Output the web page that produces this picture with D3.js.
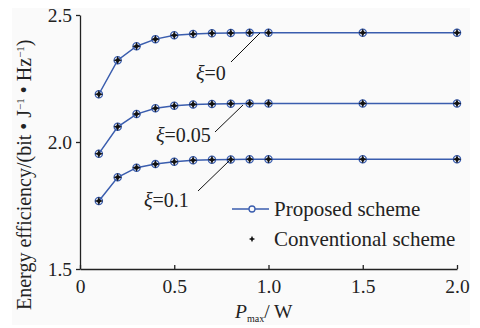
<!DOCTYPE html>
<html>
  <head>
    <meta charset="utf-8">
    <title>Energy efficiency vs Pmax</title>
    <script src="https://d3js.org/d3.v7.min.js"></script>
    <style>
    html, body {
        margin: 0;
        padding: 0;
        background: #fff;
    }
    .axis path, .axis line {
        stroke: #222;
        stroke-width: 1.3px;
    }
    .curve {
        fill: none;
        stroke: #3a5dae;
        stroke-width: 1.5px;
    }
    .ring {
        fill: none;
        stroke: #3a5dae;
        stroke-width: 1.3px;
    }
    .star {
        fill: #111;
    }
    .leader {
        stroke: #111;
        stroke-width: 1px;
    }
    </style>
  </head>
  <body>
    <div id="vis"></div>
    <script>

      // P_max (W)
      var powerW = [0.1, 0.2, 0.3, 0.4, 0.5, 0.6, 0.7, 0.8, 0.9, 1.0, 1.5, 2.0];

      // energy efficiency, proposed scheme
      var eeXi0   = [2.188, 2.322, 2.377, 2.405, 2.420, 2.425, 2.428, 2.429, 2.430, 2.430, 2.430, 2.430];
      var eeXi005 = [1.954, 2.060, 2.110, 2.133, 2.143, 2.148, 2.150, 2.151, 2.152, 2.152, 2.152, 2.152];
      var eeXi01  = [1.768, 1.861, 1.899, 1.913, 1.922, 1.928, 1.930, 1.931, 1.932, 1.932, 1.932, 1.932];

      // conventional scheme lands on the same points
      var convXi0   = eeXi0.slice();
      var convXi005 = eeXi005.slice();
      var convXi01  = eeXi01.slice();

      var xTicks = [0, 0.5, 1.0, 1.5, 2.0];
      var xTickLabels = ['0', '0.5', '1.0', '1.5', '2.0'];
      var yTicks = [1.5, 2.0, 2.5];
      var curveLabels = ['\u03BE=0', '\u03BE=0.05', '\u03BE=0.1'];
      var legendLabels = ['Proposed scheme', 'Conventional scheme'];

      var width = 480;
      var height = 328;
      var serif = "'Liberation Serif'";

      function serifText(sel, size) {
        return sel.style('font-family', serif)
            .style('font-size', size + 'px')
            .style('fill', '#222');
      }

      var x = d3.scaleLinear().domain([0, 2]).range([80, 457]);
      var y = d3.scaleLinear().domain([1.5, 2.5]).range([269, 15]);

      var svg = d3.select('#vis').append('svg')
          .attr('width', width)
          .attr('height', height);

      svg.append('rect')
          .attr('x', 12).attr('y', 8)
          .attr('width', 458).attr('height', 317)
          .attr('fill', '#fafafa');

      // axes
      var gx = svg.append('g')
          .attr('class', 'axis')
          .attr('transform', 'translate(0,' + y(1.5) + ')')
          .call(d3.axisBottom(x).tickValues(xTicks)
              .tickFormat(function(d, i) { return xTickLabels[i]; })
              .tickSize(-4).tickSizeOuter(0).tickPadding(10));
      serifText(gx.selectAll('text'), 19.5);

      var gy = svg.append('g')
          .attr('class', 'axis')
          .attr('transform', 'translate(' + x(0) + ',0)')
          .call(d3.axisLeft(y).tickValues(yTicks)
              .tickFormat(d3.format('.1f'))
              .tickSize(4).tickSizeOuter(0).tickPadding(4));
      serifText(gy.selectAll('text'), 19.5);

      svg.selectAll('.domain').attr('stroke-width', 1.3);

      // axis titles
      var xt = serifText(svg.append('text')
          .attr('x', 235).attr('y', 318), 19.5);
      xt.append('tspan').style('font-style', 'italic').text('P');
      xt.append('tspan').attr('dy', 4).style('font-size', '10px').text('max');
      xt.append('tspan').attr('dy', -4).text('/ W');

      var yt = serifText(svg.append('text')
          .attr('transform', 'translate(31,310) rotate(-90)'), 20);
      yt.append('tspan').text('Energy efficiency/(bit \u2022 J');
      yt.append('tspan').attr('dy', -7).style('font-size', '11px').text('\u22121');
      yt.append('tspan').attr('dy', 7).text(' \u2022 Hz');
      yt.append('tspan').attr('dy', -7).style('font-size', '11px').text('\u22121');
      yt.append('tspan').attr('dy', 7).text(')');

      // curves
      var series = [eeXi0, eeXi005, eeXi01];
      var convSeries = [convXi0, convXi005, convXi01];

      var line = d3.line()
          .x(function(d, i) { return x(powerW[i]); })
          .y(function(d) { return y(d); });

      var starPath = 'M0,-4.2L1.3,-1.3L4.2,0L1.3,1.3L0,4.2L-1.3,1.3L-4.2,0L-1.3,-1.3Z';
      var smallStar = 'M0,-3.2L1,-1L3.2,0L1,1L0,3.2L-1,1L-3.2,0L-1,-1Z';

      series.forEach(function(s, k) {
        svg.append('path')
            .datum(s)
            .attr('class', 'curve')
            .attr('d', line);

        svg.selectAll('.ring' + k)
            .data(s)
            .enter()
            .append('circle')
            .attr('class', 'ring')
            .attr('cx', function(d, i) { return x(powerW[i]); })
            .attr('cy', function(d) { return y(d); })
            .attr('r', 3.6);

        svg.selectAll('.star' + k)
            .data(convSeries[k])
            .enter()
            .append('path')
            .attr('class', 'star')
            .attr('d', starPath)
            .attr('transform', function(d, i) {
              return 'translate(' + x(powerW[i]) + ',' + y(d) + ')';
            });
      });

      // curve annotations
      var notes = [
        {tx: 196, ty: 80, l: [231, 62, 260, 33]},
        {tx: 156, ty: 142, l: [215, 132, 243, 105]},
        {tx: 144, ty: 207, l: [198, 191, 229, 161]}
      ];
      notes.forEach(function(n, k) {
        var parts = curveLabels[k].split('=');
        var t = serifText(svg.append('text')
            .attr('x', n.tx).attr('y', n.ty), 20);
        t.append('tspan').style('font-style', 'italic').text(parts[0]);
        t.append('tspan').text('=' + parts[1]);
        svg.append('line')
            .attr('class', 'leader')
            .attr('x1', n.l[0]).attr('y1', n.l[1])
            .attr('x2', n.l[2]).attr('y2', n.l[3]);
      });

      // legend
      svg.append('line')
          .attr('class', 'curve')
          .attr('x1', 232).attr('y1', 209)
          .attr('x2', 269).attr('y2', 209);
      svg.append('circle')
          .attr('cx', 252).attr('cy', 209).attr('r', 3)
          .attr('fill', '#fafafa')
          .attr('stroke', '#3a5dae')
          .attr('stroke-width', 1.3);
      svg.append('path')
          .attr('class', 'star')
          .attr('d', smallStar)
          .attr('transform', 'translate(252,239)');

      serifText(svg.selectAll('.legtext')
          .data(legendLabels)
          .enter()
          .append('text')
          .attr('class', 'legtext')
          .attr('x', 274)
          .attr('y', function(d, i) { return 216 + i * 30; }), 21)
          .text(function(d) { return d; });

    </script>
  </body>
</html>
